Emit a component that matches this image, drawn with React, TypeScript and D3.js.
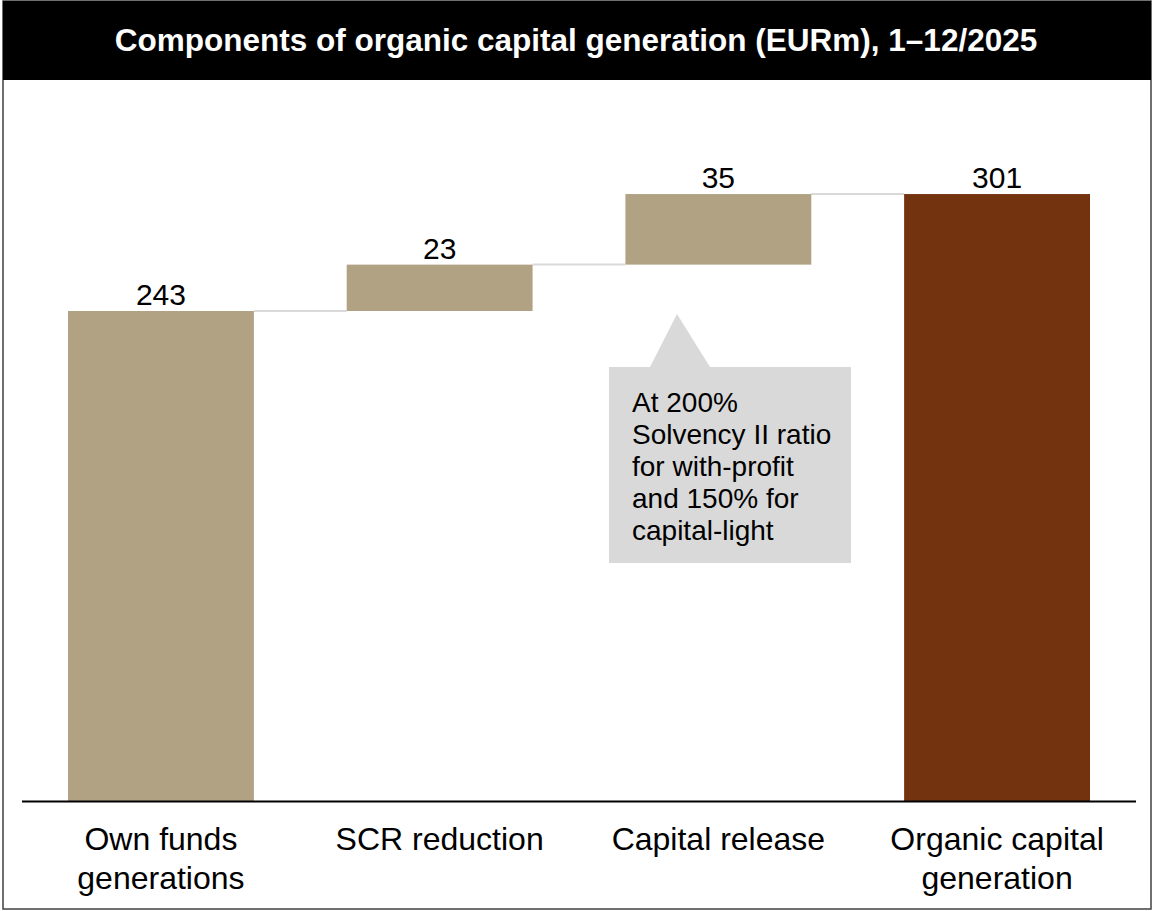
import React from "react";
import * as d3 from "d3";

const categories = ["Own funds generations", "SCR reduction", "Capital release", "Organic capital generation"];
const categoryLines = [["Own funds", "generations"], ["SCR reduction"], ["Capital release"], ["Organic capital", "generation"]];
const values = [243, 23, 35, 301];
const kinds = ["base", "delta", "delta", "total"];
const valueLabels = ["243", "23", "35", "301"];
const calloutLines = ["At 200%", "Solvency II ratio", "for with-profit", "and 150% for", "capital-light"];
const title = "Components of organic capital generation (EURm), 1–12/2025";

const W = 1153;
const H = 911;
const FONT = "'Liberation Sans', Arial, Helvetica, sans-serif";
const TAN = "#b1a283";
const BROWN = "#73330e";

export default function App() {
  const x = d3.scaleBand<string>().domain(categories).range([22, 1136]).paddingInner(0.333).paddingOuter(0.165);
  const y = d3.scaleLinear().domain([0, 243]).range([801, 311]);

  let running = 0;
  const bars = categories.map((c, i) => {
    let y0: number, y1: number;
    if (kinds[i] === "delta") {
      y0 = running;
      y1 = running + values[i];
      running = y1;
    } else {
      y0 = 0;
      y1 = values[i];
      running = values[i];
    }
    return { c, i, y0, y1 };
  });

  const bw = x.bandwidth();

  return (
    <svg width={W} height={H} style={{ position: "absolute", left: 0, top: 0, fontFamily: FONT }}>
      <rect x={3} y={1} width={1148} height={908} fill="#fff" stroke="#404040" strokeWidth={1.5} />
      <rect x={3} y={1} width={1148} height={79} fill="#000" />
      <text x={576} y={51} textAnchor="middle" fill="#fff" fontSize={31.5} fontWeight="bold">{title}</text>

      {bars.slice(0, -1).map((b, i) => (
        <line key={"c" + i}
          x1={(x(b.c) as number) + bw} x2={x(categories[i + 1]) as number}
          y1={y(b.y1)} y2={y(b.y1)}
          stroke="#d9d9d9" strokeWidth={2} />
      ))}

      {bars.map((b) => (
        <rect key={b.c} x={x(b.c)} y={y(b.y1)} width={bw} height={y(b.y0) - y(b.y1)}
          fill={kinds[b.i] === "total" ? BROWN : TAN} />
      ))}

      {bars.map((b) => (
        <text key={"v" + b.c} x={(x(b.c) as number) + bw / 2} y={y(b.y1) - 6}
          textAnchor="middle" fontSize={30} fill="#000">{valueLabels[b.i]}</text>
      ))}

      <line x1={22} x2={1136} y1={801.5} y2={801.5} stroke="#000" strokeWidth={2} />

      {categories.map((c, i) => (
        <text key={"l" + c} textAnchor="middle" fontSize={32} fill="#000">
          {categoryLines[i].map((ln, j) => (
            <tspan key={j} x={(x(c) as number) + bw / 2} y={850 + j * 39}>{ln}</tspan>
          ))}
        </text>
      ))}

      <path d="M609,367 L650,367 L677,314 L710,367 L851,367 L851,563 L609,563 Z" fill="#d9d9d9" />
      <text fontSize={28} fill="#000">
        {calloutLines.map((ln, j) => (
          <tspan key={j} x={632} y={412 + j * 32}>{ln}</tspan>
        ))}
      </text>
    </svg>
  );
}
